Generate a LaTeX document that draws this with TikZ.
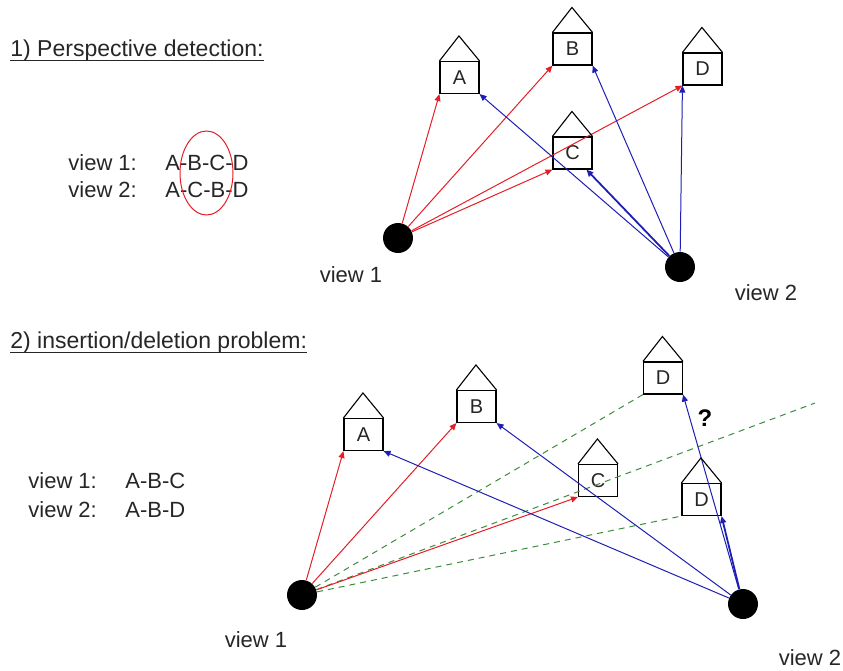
\documentclass[tikz,border=0pt]{standalone}
\usepackage{fontspec}
\setmainfont{Liberation Sans}
\usetikzlibrary{positioning, arrows.meta, shapes.geometric}
\definecolor{rayred}{HTML}{E41E26}
\definecolor{rayblue}{HTML}{1E1EB4}
\definecolor{raygreen}{HTML}{3C8C3C}
\definecolor{inkgray}{HTML}{262626}

\begin{document}
\begin{tikzpicture}[
    x=0.5pt, y=-0.5pt,
    house/.style={rectangle, draw=black, line width=0.55pt, minimum width=19.5pt,
                  minimum height=16pt, inner sep=0pt, text=inkgray,
                  font=\fontsize{10}{12}\selectfont},
    viewpt/.style={circle, fill=black, minimum size=15pt, inner sep=0pt},
    heading/.style={anchor=base west, inner sep=0pt, text=inkgray,
                    font=\fontsize{11.5}{14}\selectfont},
    rowtext/.style={anchor=base west, inner sep=0pt, text=inkgray,
                    font=\fontsize{11}{13}\selectfont},
    viewlabel/.style={inner sep=0pt, text=inkgray, font=\fontsize{11}{13}\selectfont},
    rayarrow/.style={-{Triangle[length=3.5pt, width=3pt]}, line width=0.5pt},
    red ray/.style={rayarrow, rayred},
    blue ray/.style={rayarrow, rayblue},
    sight/.style={raygreen, line width=0.5pt, dash pattern=on 3pt off 2.5pt}
  ]
    \useasboundingbox (0,0) rectangle (843,671);

    % 1) perspective detection
    \node[heading] (t1) at (10,56) {1) Perspective detection:};
    \draw[inkgray, line width=0.5pt] ([yshift=-2pt]t1.base west) -- ([yshift=-2pt]t1.base east);
    \node[rowtext] (r1) at (68,170) {view 1:};
    \node[rowtext] (r2) at (68,197) {view 2:};
    \node[rowtext] (s1) at (165,170) {A-B-C-D};
    \node[rowtext] (s2) at (165,197) {A-C-B-D};
    \node[ellipse, draw=rayred, line width=0.5pt, minimum width=26.5pt,
          minimum height=42pt, inner sep=0pt] (swap) at (206.5,173) {};

    \node[house] (A1) at (459.5,77.5) {A};
    \node[house] (B1) at (572.5,49) {B};
    \node[house] (D1) at (702.5,69) {D};
    \node[house] (C1) at (572.5,153) {C};

    \node[viewpt] (v1) at (398,238) {};
    \node[viewpt] (v2) at (680,267) {};
    \node[viewlabel] (l1) at (351,275) {view 1};
    \node[viewlabel] (l2) at (766,293) {view 2};

    \draw[red ray] (v1) -- (A1.south west);
    \draw[red ray] (v1) -- (B1.south west);
    \draw[red ray] (v1) -- (D1.south west);
    \draw[red ray] (v1) -- (C1.south west);
    \draw[blue ray] (v2) -- (A1.south east);
    \draw[blue ray] (v2) -- (B1.south east);
    \draw[blue ray] (v2) -- (D1.south west);
    \draw[blue ray, line width=0.9pt] (v2) -- (C1.-50);

    % 2) insertion/deletion problem
    \node[heading] (t2) at (10,348) {2) insertion/deletion problem:};
    \draw[inkgray, line width=0.5pt] ([yshift=-2pt]t2.base west) -- ([yshift=-2pt]t2.base east);
    \node[rowtext] (r3) at (28,488) {view 1:};
    \node[rowtext] (r4) at (28,517) {view 2:};
    \node[rowtext] (s3) at (125,488) {A-B-C};
    \node[rowtext] (s4) at (125,517) {A-B-D};

    \node[house] (A2) at (363.5,434.5) {A};
    \node[house] (B2) at (476.5,406.5) {B};
    \node[house] (D2) at (663,378) {D};
    \node[house] (C2) at (598,480.5) {C};
    \node[house] (D3) at (701.5,499.5) {D};

    \node[viewpt] (v3) at (302,595) {};
    \node[viewpt] (v4) at (743,604) {};
    \node[viewlabel] (l3) at (256,640) {view 1};
    \node[viewlabel] (l4) at (810,658) {view 2};
    \coordinate (far) at (815,403);

    \draw[sight] (v3) -- (D2.south west);
    \draw[sight] (v3) -- (far);
    \draw[sight] (v3) -- (D3.south west);
    \draw[red ray] (v3) -- (A2.south west);
    \draw[red ray] (v3) -- (B2.south west);
    \draw[red ray] (v3) -- (C2.south west);
    \draw[blue ray] (v4) -- (A2.south east);
    \draw[blue ray] (v4) -- (B2.south east);
    \draw[blue ray, line width=0.9pt] (v4) -- (D3.south east);
    \draw[blue ray] (v4) -- (D2.south east);
    \node[font=\fontsize{12}{14}\selectfont\bfseries] (qm) at (705,418) {?};

    \foreach \h in {A1,B1,C1,D1,A2,B2,C2,D2,D3}
      \draw[line width=0.55pt] (\h.north west) -- ++(9.75pt,12.5pt) -- (\h.north east);
\end{tikzpicture}
\end{document}
